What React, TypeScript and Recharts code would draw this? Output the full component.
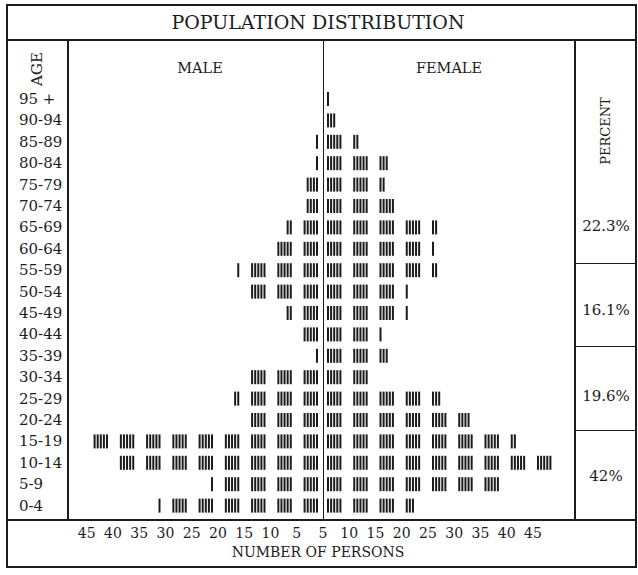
import React from "react";
import { BarChart, Bar, XAxis, YAxis } from "recharts";

const AGE_GROUPS = ["95 +", "90-94", "85-89", "80-84", "75-79", "70-74", "65-69", "60-64", "55-59", "50-54", "45-49", "40-44", "35-39", "30-34", "25-29", "20-24", "15-19", "10-14", "5-9", "0-4"];
const MALE = [0, 0, 1, 1, 4, 4, 7, 10, 16, 15, 7, 5, 1, 15, 17, 15, 45, 40, 21, 31];
const FEMALE = [1, 3, 7, 13, 12, 15, 22, 21, 22, 16, 16, 11, 13, 10, 23, 29, 37, 45, 35, 18];
const PERCENT_LABELS = ["22.3%", "16.1%", "19.6%", "42%"];
const TICK_VALUES = [-45, -40, -35, -30, -25, -20, -15, -10, -5, 0, 5, 10, 15, 20, 25, 30, 35, 40];
const TICK_LABELS = ["45", "40", "35", "30", "25", "20", "15", "10", "5", "5", "10", "15", "20", "25", "30", "35", "40", "45"];

const data = AGE_GROUPS.map((age, i) => ({
  age,
  male: -MALE[i],
  female: FEMALE[i],
  maleCount: MALE[i],
  femaleCount: FEMALE[i],
}));

const FONT = "'DejaVu Serif', serif";
const INK = "#1c1c1c";

function tallyShape(side: "male" | "female") {
  return (props: any) => {
    const { x, y, width, height, payload } = props;
    const count = side === "male" ? payload.maleCount : payload.femaleCount;
    if (!count) return <g />;
    const left = Math.min(x, x + width);
    const right = Math.max(x, x + width);
    const ppu = (right - left) / count;
    const slot = ppu * 5;
    const marks: any[] = [];
    for (let i = 0; i < count; i++) {
      const g = Math.floor(i / 5);
      const k = i % 5;
      const mx = side === "female" ? left + g * slot + 4 + k * 3.1 : right - g * slot - 7 - k * 3.1;
      marks.push(<rect key={i} x={mx} y={y} width={2} height={height} fill={INK} />);
    }
    return <g>{marks}</g>;
  };
}

const AgeTick = (props: any) => {
  const { y, payload } = props;
  return (
    <text x={19} y={y} dy="0.35em" textAnchor="start" fontSize={15} fontFamily={FONT} fill={INK}>
      {payload.value}
    </text>
  );
};

const line = (left: number, top: number, width: number, height: number, key: string) => (
  <div key={key} style={{ position: "absolute", left, top, width, height, background: INK }} />
);

const label = (text: string, cx: number, cy: number, size: number, rotate = 0, key?: string) => (
  <div
    key={key || text}
    style={{
      position: "absolute",
      left: cx,
      top: cy,
      transform: `translate(-50%, -50%) rotate(${rotate}deg)`,
      fontFamily: FONT,
      fontSize: size,
      lineHeight: 1,
      whiteSpace: "nowrap",
      color: INK,
    }}
  >
    {text}
  </div>
);

export default function App() {
  return (
    <div style={{ position: "absolute", left: 0, top: 0, width: 638, height: 575, background: "#fff" }}>
      <div style={{ position: "absolute", left: 0, top: 0 }}>
        <BarChart
          width={638}
          height={575}
          data={data}
          layout="vertical"
          stackOffset="sign"
          margin={{ top: 88, right: 52.5, bottom: 29, left: 5.5 }}
          barCategoryGap={0}
        >
          <XAxis
            type="number"
            domain={[-50, 50]}
            ticks={TICK_VALUES}
            interval={0}
            tickFormatter={(_v: any, i: number) => TICK_LABELS[i]}
            tickLine={false}
            axisLine={false}
            tickMargin={6}
            height={30}
            tick={{ fontSize: 14, fontFamily: FONT, fill: INK }}
          />
          <YAxis type="category" dataKey="age" width={55} tickLine={false} axisLine={false} tick={<AgeTick />} interval={0} />
          <Bar dataKey="male" stackId="s" barSize={14} shape={tallyShape("male")} isAnimationActive={false} />
          <Bar dataKey="female" stackId="s" barSize={14} shape={tallyShape("female")} isAnimationActive={false} />
        </BarChart>
      </div>
      {/* frame */}
      <div style={{ position: "absolute", left: 6, top: 4, width: 631, height: 564, border: `2px solid ${INK}`, boxSizing: "border-box" }} />
      {line(6, 39, 631, 2, "title-bottom")}
      {line(67, 40, 2, 480, "age-col")}
      {line(574, 40, 2, 480, "pct-col")}
      {line(6, 519, 631, 2, "plot-bottom")}
      {line(322.5, 40, 1.5, 480, "center")}
      {line(575, 263, 62, 1.2, "p1")}
      {line(575, 346, 62, 1.2, "p2")}
      {line(575, 430, 62, 1.2, "p3")}
      {label("POPULATION DISTRIBUTION", 318, 22, 19)}
      {label("AGE", 37, 69, 15, -90)}
      {label("MALE", 200, 68, 14.5)}
      {label("FEMALE", 449, 68, 14.5)}
      {label("PERCENT", 605, 131, 13, -90)}
      {label(PERCENT_LABELS[0], 606, 226, 15)}
      {label(PERCENT_LABELS[1], 606, 310, 15)}
      {label(PERCENT_LABELS[2], 606, 396, 15)}
      {label(PERCENT_LABELS[3], 606, 476, 15)}
      {label("NUMBER OF PERSONS", 318, 552, 14)}
    </div>
  );
}
